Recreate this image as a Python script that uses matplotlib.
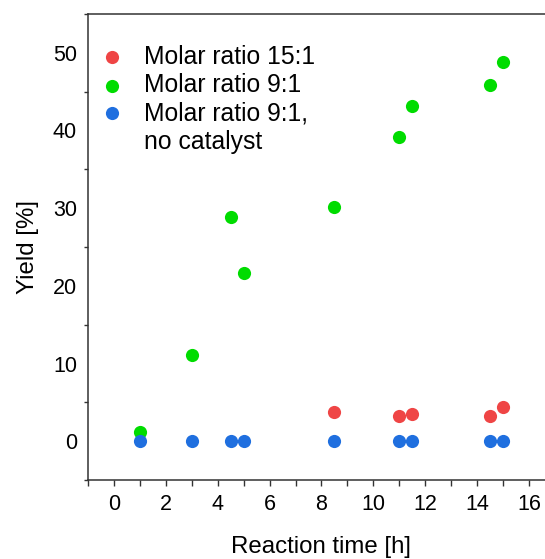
import matplotlib
matplotlib.use("Agg")
import matplotlib.pyplot as plt
from matplotlib.ticker import MultipleLocator

plt.rcParams['font.family'] = ['Liberation Sans', 'DejaVu Sans']

time_red = [8.5, 11, 11.5, 14.5, 15]
yield_red = [3.7, 3.2, 3.5, 3.3, 4.4]

time_green = [1, 3, 4.5, 5, 8.5, 11, 11.5, 14.5, 15]
yield_green = [1.2, 11.1, 28.8, 21.6, 30.1, 39.2, 43.2, 45.9, 48.8]

time_blue = [1, 3, 4.5, 5, 8.5, 11, 11.5, 14.5, 15]
yield_blue = [0, 0, 0, 0, 0, 0, 0, 0, 0]

labels = ["Molar ratio 15:1", "Molar ratio 9:1", "Molar ratio 9:1,\nno catalyst"]
colors = ["#EF4545", "#00DC00", "#1F6FDF"]

fig = plt.figure(figsize=(5.45, 5.59), dpi=100)
ax = fig.add_axes([88/545, 1-480/559, (555-88)/545, (480-14)/559])

ms = 90
ax.scatter(time_red, yield_red, s=ms, color=colors[0], label=labels[0], zorder=3, linewidths=0)
ax.scatter(time_green, yield_green, s=ms, color=colors[1], label=labels[1], zorder=3, linewidths=0)
ax.scatter(time_blue, yield_blue, s=ms, color=colors[2], label=labels[2], zorder=3, linewidths=0)

ax.set_xlim(-1, 17)
ax.set_ylim(-5, 55)
ax.xaxis.set_major_locator(MultipleLocator(2))
ax.xaxis.set_minor_locator(MultipleLocator(1))
ax.yaxis.set_major_locator(MultipleLocator(10))
ax.yaxis.set_minor_locator(MultipleLocator(5))

for s in ax.spines.values():
    s.set_linewidth(1.1)
    s.set_color("#333333")

ax.tick_params(axis='x', which='both', direction='out', length=4.3, width=1.0, color="#333333",
               labelsize=15.5, pad=6)
ax.tick_params(axis='y', which='major', length=0, labelsize=15.5, pad=8)
ax.tick_params(axis='y', which='minor', direction='out', length=3, width=1.0, color="#333333")

ax.set_xlabel("Reaction time [h]", fontsize=17.3, labelpad=15)
ax.set_ylabel("Yield [%]", fontsize=17.3, labelpad=10)

leg = ax.legend(loc='upper left', bbox_to_anchor=(-0.013, 0.971), frameon=False, fontsize=17.8,
                handletextpad=0.83, labelspacing=0.18, borderaxespad=0.3, handlelength=1.0,
                scatterpoints=1)
# align the marker of the two-line entry with its first line
rows = leg._legend_handle_box.get_children()[0].get_children()
rows[2].align = "top"

fig.savefig("out.png", dpi=100)
